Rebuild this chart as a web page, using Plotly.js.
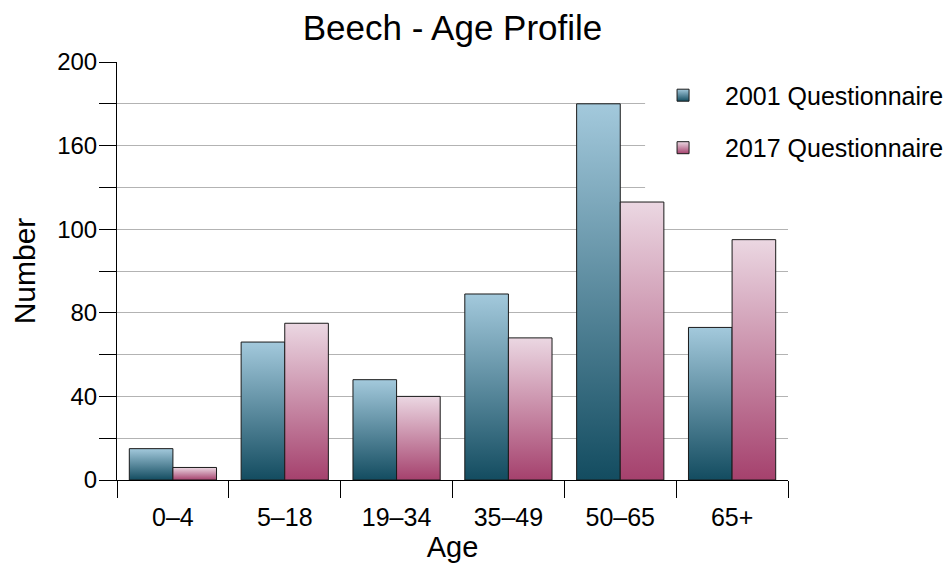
<!DOCTYPE html>
<html>
<head>
<meta charset="utf-8">
<script src="https://cdn.plot.ly/plotly-3.0.1.min.js"></script>
<style>
  html, body { margin: 0; padding: 0; background: #fff; }
  #chart { width: 952px; height: 567px; }
</style>
</head>
<body>
<svg width="0" height="0" style="position:absolute">
  <defs>
    <linearGradient id="gradBlue" x1="0" y1="0" x2="0" y2="1" gradientUnits="objectBoundingBox">
      <stop offset="0" stop-color="#a3c9dc"/>
      <stop offset="1" stop-color="#134c60"/>
    </linearGradient>
    <linearGradient id="gradPink" x1="0" y1="0" x2="0" y2="1" gradientUnits="objectBoundingBox">
      <stop offset="0" stop-color="#ebd7e2"/>
      <stop offset="1" stop-color="#a5416d"/>
    </linearGradient>
  </defs>
</svg>
<div id="chart"></div>
<script>
const categories = ['0–4', '5–18', '19–34', '35–49', '50–65', '65+'];
const seriesNames = ['2001 Questionnaire', '2017 Questionnaire'];
const q2001 = [15, 66, 48, 89, 180, 73];
const q2017 = [6, 75, 40, 68, 133, 115];
const yTickVals = [0, 20, 40, 60, 80, 100, 120, 140, 160, 180, 200];
const yTickText = ['0', '', '40', '', '80', '', '100', '', '160', '', '200'];

const FONT = 'Liberation Sans, Arial, Helvetica, sans-serif';

const traces = [
  {
    type: 'bar', name: seriesNames[0], x: categories, y: q2001,
    legendgroup: 'a',
    marker: { color: '#5b8ea5', line: { color: '#1a1a1a', width: 1 } },
    hoverinfo: 'x+y'
  },
  {
    type: 'bar', name: seriesNames[1], x: categories, y: q2017,
    legendgroup: 'b',
    marker: { color: '#c98aa6', line: { color: '#1a1a1a', width: 1 } },
    hoverinfo: 'x+y'
  }
];

const layout = {
  width: 952, height: 567,
  margin: { l: 117, r: 164, t: 62, b: 87, autoexpand: false },
  paper_bgcolor: '#fff', plot_bgcolor: '#fff',
  font: { family: FONT, color: '#000', size: 22 },
  title: {
    text: 'Beech - Age Profile',
    font: { family: FONT, size: 35, color: '#000' },
    x: 0.5, xref: 'paper', xanchor: 'center',
    y: 1 - 28 / 567, yref: 'container', yanchor: 'middle'
  },
  barmode: 'group', bargap: 0.22, bargroupgap: 0,
  showlegend: true,
  legend: {
    x: 0.781, xanchor: 'left', xref: 'paper',
    y: 0.975, yanchor: 'top',
    bgcolor: 'rgba(0,0,0,0)', borderwidth: 0,
    font: { family: FONT, size: 25, color: '#000' },
    itemwidth: 74, traceorder: 'grouped', tracegroupgap: 17
  },
  shapes: [{
    type: 'rect', xref: 'paper', yref: 'paper', layer: 'above',
    x0: 0.787, x1: 1.0, y0: 0.676, y1: 1.02,
    fillcolor: '#ffffff', line: { width: 0 }
  }],
  xaxis: {
    type: 'category',
    showline: true, linecolor: '#000', linewidth: 1,
    ticks: 'outside', ticklen: 17, tickcolor: '#000', tickwidth: 1,
    tickson: 'boundaries',
    ticklabelstandoff: 15,
    showgrid: false, zeroline: false,
    tickfont: { family: FONT, size: 25, color: '#000' },
    title: { text: 'Age', font: { family: FONT, size: 29, color: '#000' }, standoff: 5 }
  },
  yaxis: {
    range: [0, 200], autorange: false,
    tickmode: 'array', tickvals: yTickVals, ticktext: yTickText,
    showline: true, linecolor: '#000', linewidth: 1,
    ticks: 'outside', ticklen: 17, tickcolor: '#000', tickwidth: 1,
    ticklabelstandoff: -3,
    showgrid: true, gridcolor: '#b3b3b3', gridwidth: 1,
    zeroline: false,
    tickfont: { family: FONT, size: 24, color: '#000' },
    title: { text: 'Number', font: { family: FONT, size: 30, color: '#000' }, standoff: 12 }
  }
};

function applyGradients() {
  const gd = document.getElementById('chart');
  const grads = ['url(#gradBlue)', 'url(#gradPink)'];
  gd.querySelectorAll('.barlayer .trace.bars').forEach((tr, i) => {
    tr.querySelectorAll('.point path').forEach(p => { p.style.fill = grads[i % 2]; });
  });
  gd.querySelectorAll('.legend .traces').forEach((tr, i) => {
    tr.querySelectorAll('.legendpoints path').forEach(p => { p.style.fill = grads[i % 2]; });
  });
}

Plotly.newPlot('chart', traces, layout, { displayModeBar: false, staticPlot: true }).then(gd => {
  applyGradients();
  gd.on('plotly_afterplot', applyGradients);
});
</script>
</body>
</html>
